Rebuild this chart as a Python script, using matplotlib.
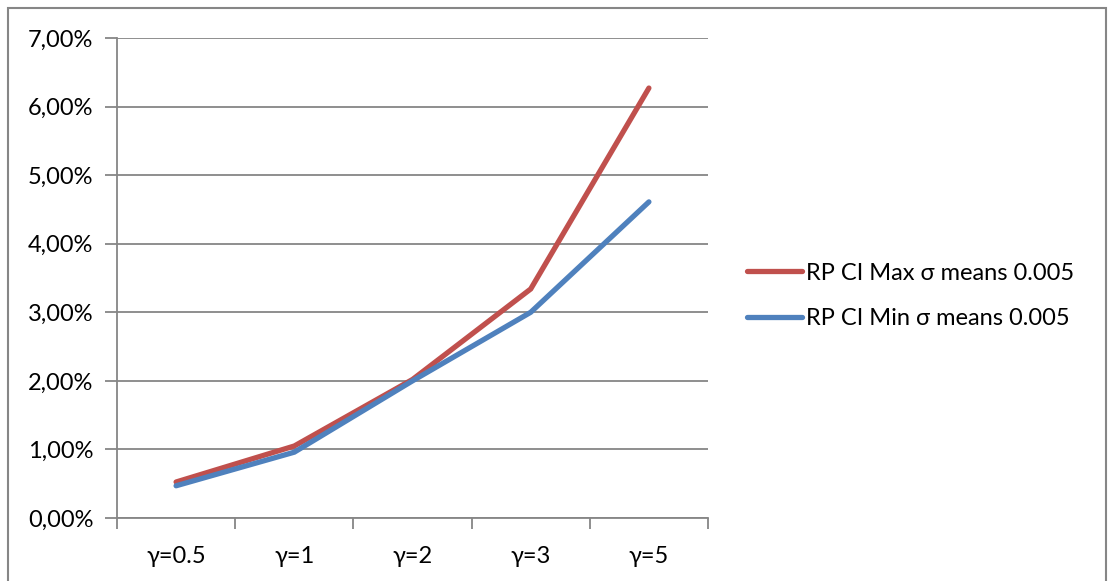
import matplotlib.pyplot as plt
from matplotlib.lines import Line2D
from matplotlib.ticker import FuncFormatter, FixedLocator

categories = ['γ=0.5', 'γ=1', 'γ=2', 'γ=3', 'γ=5']
ci_max = [0.525, 1.05, 2.02, 3.34, 6.27]
ci_min = [0.47, 0.96, 2.00, 3.00, 4.61]
series_labels = ['RP CI Max σ means 0.005', 'RP CI Min σ means 0.005']

RED = '#C0504D'
BLUE = '#4F81BD'
GRID = '#868686'
FONT = ['Lato', 'DejaVu Sans']
FS = 17

plt.rcParams['font.family'] = FONT

fig = plt.figure(figsize=(11.10, 5.81), dpi=100)
ax = fig.add_axes([117 / 1110, 1 - 518 / 581, (708 - 117) / 1110, (518 - 38) / 581])

x = list(range(len(categories)))
ax.plot(x, ci_max, color=RED, lw=3.8, solid_capstyle='round', solid_joinstyle='miter',
        label=series_labels[0], zorder=3)
ax.plot(x, ci_min, color=BLUE, lw=3.8, solid_capstyle='round', solid_joinstyle='miter',
        label=series_labels[1], zorder=3)

ax.set_xlim(-0.5, len(categories) - 0.5)
ax.set_ylim(0, 7)
ax.set_yticks(range(0, 8))
ax.yaxis.set_major_formatter(FuncFormatter(lambda v, p: f'{v:.2f}%'.replace('.', ',')))
ax.grid(axis='y', color=GRID, lw=1.3)
ax.set_axisbelow(True)

# category labels centred, tick marks on the boundaries between categories
ax.set_xticks(x)
ax.set_xticklabels(categories)
ax.xaxis.set_minor_locator(FixedLocator([i - 0.5 for i in range(len(categories) + 1)]))
ax.tick_params(axis='x', which='major', length=0, pad=20, labelsize=FS)
ax.tick_params(axis='x', which='minor', length=8, width=1.3, color=GRID)
ax.tick_params(axis='y', length=9, width=1.3, color=GRID, pad=8, labelsize=FS)

for s in ['top', 'right']:
    ax.spines[s].set_visible(False)
for s in ['left', 'bottom']:
    ax.spines[s].set_color(GRID)
    ax.spines[s].set_linewidth(1.3)

handles = [Line2D([], [], color=RED, lw=3.8, solid_capstyle='round'),
           Line2D([], [], color=BLUE, lw=3.8, solid_capstyle='round')]
fig.legend(handles, series_labels, loc='center left', bbox_to_anchor=(738 / 1110, 1 - 296 / 581),
           frameon=False, fontsize=FS, handlelength=2.3, handletextpad=0.2, labelspacing=1.05,
           borderaxespad=0)

# outer chart border
fig.add_artist(plt.Rectangle((8 / 1110, -0.05), (1106 - 8) / 1110, 1.05 - 8 / 581,
                             transform=fig.transFigure, fill=False, edgecolor=GRID, lw=1.5))

fig.savefig('out.png', dpi=100)
